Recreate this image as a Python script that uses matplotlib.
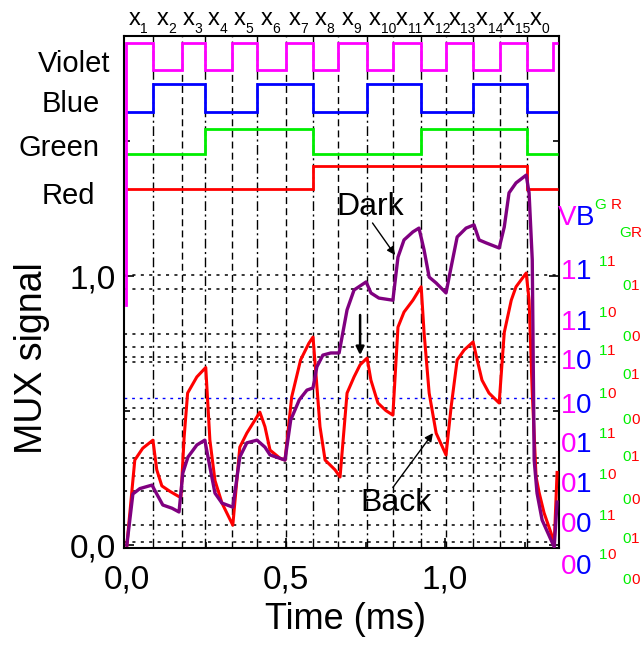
import numpy as np
import matplotlib.pyplot as plt

plt.rcParams['font.family'] = ['Liberation Sans', 'DejaVu Sans']

# switching instants of the LED multiplexer (ms)
switchTimes = [0.082, 0.173, 0.245, 0.330, 0.409, 0.500, 0.585, 0.664,
               0.755, 0.836, 0.925, 1.003, 1.088, 1.173, 1.258]
slotNames = ['1', '2', '3', '4', '5', '6', '7', '8', '9', '10',
             '11', '12', '13', '14', '15', '0']
traceStart = -0.004
violetReturn = 1.340
traceEnd = 1.356

# LED drive bits per slot (x1..x15, x0, tail)
bitsViolet = [1, 0, 1, 0, 1, 0, 1, 0, 1, 0, 1, 0, 1, 0, 1, 0, 1]
bitsBlue = [0, 1, 1, 0, 0, 1, 1, 0, 0, 1, 1, 0, 0, 1, 1, 0, 0]
bitsGreen = [0, 0, 0, 1, 1, 1, 1, 0, 0, 0, 0, 1, 1, 1, 1, 0, 0]
bitsRed = [0, 0, 0, 0, 0, 0, 0, 1, 1, 1, 1, 1, 1, 1, 1, 0, 0]
# (low, high) level of each drive trace on the plot
levViolet = (1.766, 1.866)
levBlue = (1.608, 1.715)
levGreen = (1.454, 1.546)
levRed = (1.322, 1.409)
violetStartLevel = 0.892

# MUX output, dark and background
darkT = [0.000, 0.019, 0.041, 0.079, 0.094, 0.113, 0.142, 0.164, 0.176, 0.192,
         0.220, 0.245, 0.261, 0.277, 0.299, 0.333, 0.355, 0.377, 0.409, 0.434,
         0.450, 0.497, 0.515, 0.542, 0.566, 0.585, 0.597, 0.616, 0.641, 0.667,
         0.692, 0.714, 0.752, 0.767, 0.792, 0.836, 0.852, 0.871, 0.899, 0.918,
         0.934, 0.950, 0.972, 1.003, 1.019, 1.038, 1.066, 1.091, 1.107, 1.129,
         1.170, 1.186, 1.201, 1.223, 1.255, 1.264, 1.274, 1.280, 1.289, 1.305,
         1.333, 1.343, 1.352]
darkV = [0.000, 0.190, 0.210, 0.223, 0.190, 0.149, 0.137, 0.123, 0.268, 0.327,
         0.372, 0.390, 0.290, 0.193, 0.156, 0.141, 0.327, 0.380, 0.390, 0.364,
         0.335, 0.316, 0.465, 0.540, 0.576, 0.584, 0.662, 0.706, 0.714, 0.714,
         0.874, 0.948, 0.978, 0.937, 0.918, 0.910, 1.070, 1.134, 1.164, 1.178,
         1.097, 0.996, 0.974, 0.937, 1.033, 1.145, 1.178, 1.190, 1.134, 1.123,
         1.104, 1.182, 1.309, 1.346, 1.375, 1.309, 1.060, 0.316, 0.193, 0.093,
         0.019, -0.007, 0.160]
backT = [0.000, 0.025, 0.050, 0.082, 0.094, 0.110, 0.135, 0.164, 0.170, 0.180,
         0.191, 0.220, 0.248, 0.261, 0.277, 0.299, 0.333, 0.355, 0.377, 0.418,
         0.434, 0.450, 0.481, 0.497, 0.518, 0.546, 0.572, 0.585, 0.594, 0.607,
         0.623, 0.654, 0.670, 0.692, 0.714, 0.733, 0.755, 0.767, 0.789, 0.814,
         0.836, 0.852, 0.871, 0.899, 0.925, 0.934, 0.950, 0.972, 1.003, 1.019,
         1.038, 1.060, 1.088, 1.101, 1.116, 1.138, 1.170, 1.186, 1.208, 1.223,
         1.255, 1.264, 1.274, 1.286, 1.296, 1.311, 1.333, 1.343, 1.352]
backV = [0.000, 0.316, 0.360, 0.390, 0.280, 0.220, 0.200, 0.180, 0.180, 0.400,
         0.565, 0.625, 0.660, 0.390, 0.240, 0.156, 0.074, 0.364, 0.416, 0.494,
         0.440, 0.353, 0.323, 0.316, 0.550, 0.688, 0.750, 0.773, 0.640, 0.440,
         0.316, 0.280, 0.253, 0.565, 0.625, 0.670, 0.695, 0.613, 0.528, 0.500,
         0.483, 0.810, 0.866, 0.910, 0.960, 0.790, 0.565, 0.416, 0.335, 0.513,
         0.688, 0.725, 0.755, 0.688, 0.613, 0.565, 0.528, 0.790, 0.910, 0.960,
         1.011, 0.910, 0.565, 0.253, 0.193, 0.120, 0.045, 0.007, 0.270]

# reference levels (dotted)
refLevels = [1.005, 0.953, 0.785, 0.737, 0.700, 0.679, 0.510, 0.468,
             0.381, 0.325, 0.305, 0.258, 0.200, 0.076, 0.012]
blueRefLevel = 0.545

# code table at the right
codeVB = ['11', '11', '10', '10', '01', '01', '00', '00']
codeGRa = ['11', '10', '11', '10', '11', '10', '11', '10']
codeGRb = ['01', '00', '01', '00', '01', '00', '01', '00']

cV, cB, cG, cR, cP = '#ff00ff', '#0000ff', '#00ee00', '#ff0000', '#800080'

fig = plt.figure(figsize=(6.44, 6.54), dpi=100)
ax = fig.add_axes([0.1925, 0.162, 0.6755, 0.783])
ax.set_xlim(-0.009, 1.358)
ax.set_ylim(-0.011, 1.892)

for lv in refLevels:
    ax.axhline(lv, color='k', ls=(0, (2, 3.5)), lw=1.1, zorder=1)
ax.axhline(blueRefLevel, color='b', ls=(0, (2, 3.5)), lw=1.0, zorder=1)
for i, ts in enumerate(switchTimes):
    ax.axvline(ts, color='k', ls=(0, (7, 2.5, 1.5, 2.5)) if i % 2 == 0 else (0, (5, 3)),
               lw=1.0, zorder=1)

edges = [traceStart] + switchTimes + [violetReturn, traceEnd]
for bits, lev, col in [(bitsViolet, levViolet, cV), (bitsBlue, levBlue, cB),
                       (bitsGreen, levGreen, cG), (bitsRed, levRed, cR)]:
    vals = [lev[0] + b * (lev[1] - lev[0]) for b in bits]
    ax.stairs(vals, edges, baseline=None, color=col, lw=2.0, zorder=3)
ax.plot([traceStart, traceStart], [violetStartLevel, levViolet[1]], color=cV, lw=2, zorder=3)

ax.plot(backT, backV, color=cR, lw=2.2, zorder=4)
ax.plot(darkT, darkV, color=cP, lw=2.4, zorder=5)

ax.set_xticks([0.0, 0.5, 1.0])
ax.set_xticklabels(['0,0', '0,5', '1,0'])
ax.set_xticks([0.25, 0.75, 1.25], minor=True)
ax.set_yticks([0.0, 1.0])
ax.set_yticklabels(['0,0', '1,0'])
ax.set_yticks([0.5, 1.5], minor=True)
ax.tick_params(which='both', direction='in', right=True, top=False,
               labelsize=24, width=1.2)
ax.tick_params(which='major', length=7)
ax.tick_params(axis='x', which='major', pad=12)
ax.tick_params(axis='y', which='major', pad=6)
ax.tick_params(which='minor', length=4)
for sp in ax.spines.values():
    sp.set_linewidth(1.5)

# slot names on top: "x" with a lowered index
mids = np.convolve(edges[:-1], [0.5, 0.5], mode='valid')
for m, nm in zip(mids, slotNames):
    ax.text(m + 0.003, 1.933, 'x', ha='right', va='baseline', fontsize=17, clip_on=False)
    ax.text(m + 0.003, 1.903, nm, ha='left', va='baseline', fontsize=10, clip_on=False)

# trace names
for txt, tx, ty in [('Violet', -0.053, 1.788), ('Blue', -0.085, 1.639),
                    ('Green', -0.085, 1.476), ('Red', -0.101, 1.297)]:
    ax.text(tx, ty, txt, ha='right', va='center', fontsize=21)

arrow = dict(arrowstyle='-|>', color='k', lw=1, mutation_scale=12, shrinkA=0, shrinkB=0)
ax.text(0.764, 1.257, 'Dark', ha='center', va='center', fontsize=23)
ax.annotate('', xy=(0.843, 1.078), xytext=(0.772, 1.197), arrowprops=arrow)
ax.text(0.847, 0.157, 'Back', ha='center', va='center', fontsize=23)
ax.annotate('', xy=(0.962, 0.416), xytext=(0.836, 0.214), arrowprops=arrow)
ax.annotate('', xy=(0.733, 0.706), xytext=(0.733, 0.855),
            arrowprops=dict(arrowstyle='-|>', color='k', lw=1.8, mutation_scale=12,
                            shrinkA=0, shrinkB=0))

# code table
def pair(x, y, a, b, ca, cb, fs):
    ax.text(x, y, a, color=ca, ha='right', va='center', fontsize=fs, clip_on=False)
    ax.text(x, y, b, color=cb, ha='left', va='center', fontsize=fs, clip_on=False)

pair(1.412, 1.216, 'V', 'B', cV, cB, 20)
pair(1.522, 1.262, 'G ', 'R', cG, cR, 11)
pair(1.585, 1.160, 'G', 'R', cG, cR, 11)
yVB = [1.015, 0.825, 0.680, 0.517, 0.372, 0.223, 0.074, -0.082]
yGa = [1.052, 0.862, 0.721, 0.561, 0.413, 0.260, 0.108, -0.037]
yGb = [0.963, 0.773, 0.632, 0.465, 0.327, 0.167, 0.022, -0.130]
for code, y in zip(codeVB, yVB):
    pair(1.412, y, code[0], code[1], cV, cB, 20)
for code, y in zip(codeGRa, yGa):
    pair(1.509, y, code[0], code[1], cG, cR, 11)
for code, y in zip(codeGRb, yGb):
    pair(1.585, y, code[0], code[1], cG, cR, 11)

fig.text(0.050, 0.453, 'MUX signal', rotation=90, ha='center', va='center', fontsize=27)
fig.text(0.536, 0.052, 'Time (ms)', ha='center', va='center', fontsize=26)

fig.savefig('out.png', dpi=100)
